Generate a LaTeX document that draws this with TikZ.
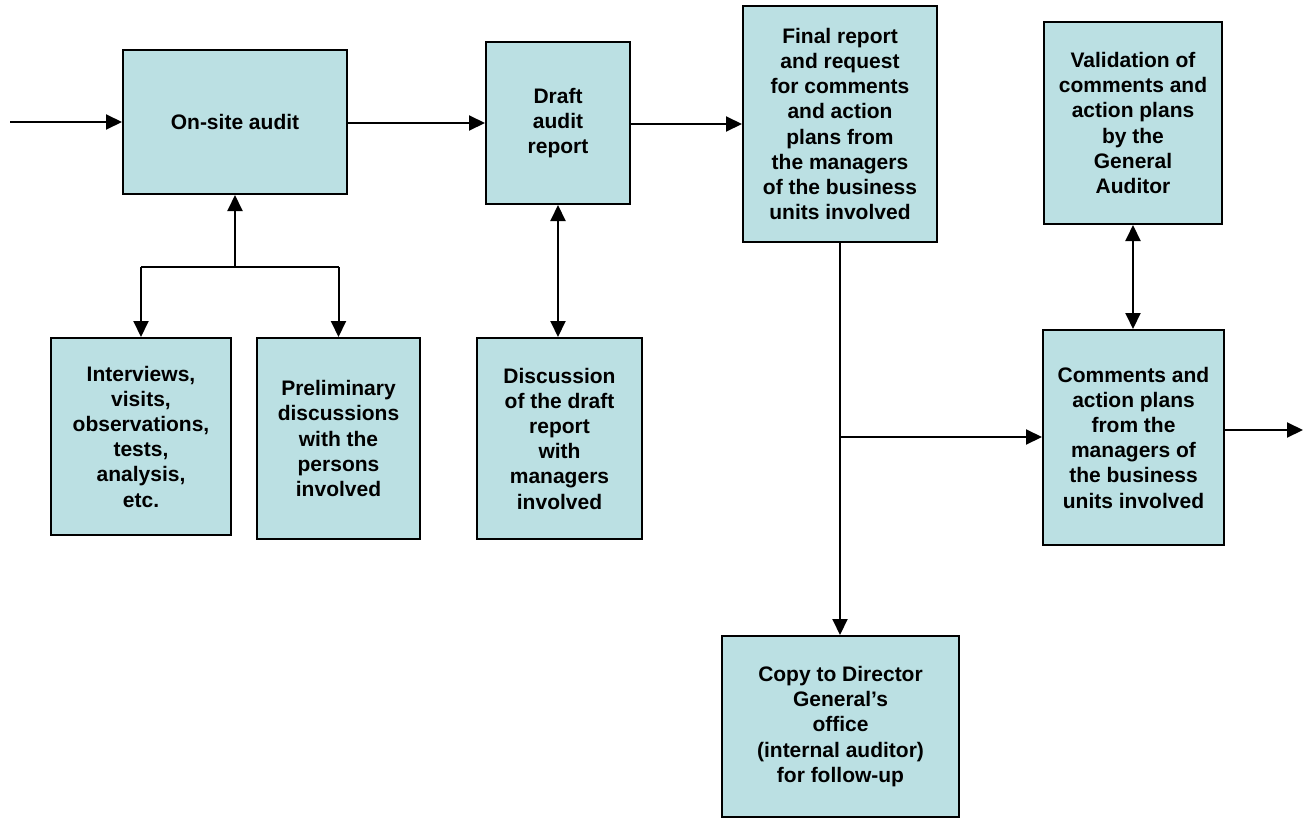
\documentclass[tikz,border=0pt]{standalone}
\usepackage{fontspec}
\setmainfont{Liberation Sans}
\usetikzlibrary{arrows.meta}
\definecolor{boxfill}{RGB}{187,224,227}
\tikzset{
  box/.style={draw=black, fill=boxfill, line width=2pt, rectangle, inner sep=0pt, align=center,
    font=\fontsize{21}{25.2}\selectfont\bfseries},
  conn/.style={line width=2pt, -{Triangle[length=16pt,width=15pt]}},
  bconn/.style={line width=2pt, {Triangle[length=16pt,width=15pt]}-{Triangle[length=16pt,width=15pt]}},
  plain/.style={line width=2pt}
}
\begin{document}
\begin{tikzpicture}[x=1pt,y=-1pt]
\useasboundingbox (0,0) rectangle (1304,819);
\node[box, minimum width=224pt, minimum height=144pt] (onsite) at (235,122) {On-site audit};
\node[box, minimum width=144pt, minimum height=162pt] (draft) at (558,123) {Draft\\audit\\report};
\node[box, minimum width=194pt, minimum height=236pt] (final) at (840,124) {Final report\\and request\\for comments\\and action\\plans from\\the managers\\of the business\\units involved};
\node[box, minimum width=178pt, minimum height=202pt] (valid) at (1133,123) {Validation of\\comments and\\action plans\\by the\\General\\Auditor};
\node[box, minimum width=181pt, minimum height=215pt] (comments) at (1133.5,437.5) {Comments and\\action plans\\from the\\managers of\\the business\\units involved};
\node[box, minimum width=180pt, minimum height=197pt] (interv) at (141,436.5) {Interviews,\\visits,\\observations,\\tests,\\analysis,\\etc.};
\node[box, minimum width=163pt, minimum height=201pt] (prelim) at (338.5,438.5) {Preliminary\\discussions\\with the\\persons\\involved};
\node[box, minimum width=165pt, minimum height=201pt] (disc) at (559.5,438.5) {Discussion\\of the draft\\report\\with\\managers\\involved};
\node[box, minimum width=237pt, minimum height=181pt] (copy) at (840.5,726.5) {Copy to Director\\General’s\\office\\(internal auditor)\\for follow-up};

\coordinate (start) at (10,122);
\coordinate (branch) at (235,267);
\coordinate (bl) at (141,267);
\coordinate (br) at (338.5,267);
\coordinate (split) at (840,437);
\coordinate (outend) at (1303,430);

\draw[conn] (start) -- (onsite.west |- start);
\draw[conn] (onsite.east |- 0,123) -- (draft.west |- 0,123);
\draw[conn] (draft.east |- 0,124) -- (final.west |- 0,124);
\draw[conn] (branch) -- (onsite.south);
\draw[plain] (bl) -- (br);
\draw[conn] (bl) -- (interv.north);
\draw[conn] (br) -- (prelim.north);
\draw[bconn] (draft.south) -- (draft.south |- disc.north);
\draw[conn] (final.south) -- (final.south |- copy.north);
\draw[conn] (split) -- (comments.west |- split);
\draw[bconn] (valid.south) -- (valid.south |- comments.north);
\draw[conn] (comments.east |- outend) -- (outend);
\end{tikzpicture}
\end{document}
